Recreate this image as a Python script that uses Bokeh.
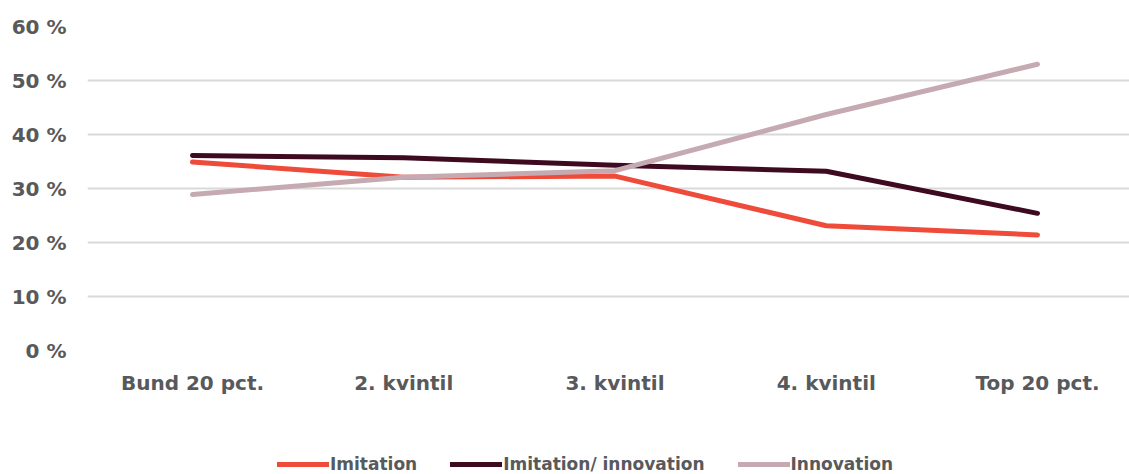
from bokeh.plotting import figure
from bokeh.layouts import column
from bokeh.models import Range1d, FixedTicker, Legend, LegendItem
from bokeh.embed import file_html
from bokeh.resources import INLINE

categories = ["Bund 20 pct.", "2. kvintil", "3. kvintil", "4. kvintil", "Top 20 pct."]
imitation = [0.349, 0.321, 0.323, 0.231, 0.214]
imitation_innovation = [0.361, 0.357, 0.343, 0.332, 0.254]
innovation = [0.289, 0.321, 0.333, 0.437, 0.530]
y_ticks = [0, 0.1, 0.2, 0.3, 0.4, 0.5, 0.6]
y_labels = ["0 %", "10 %", "20 %", "30 %", "40 %", "50 %", "60 %"]

FONT = "DejaVu Sans"
TXT = "#58595b"

x = list(range(len(categories)))

p = figure(width=1129, height=423, output_backend="svg", toolbar_location=None,
           x_range=Range1d(-0.497, 4.4355), y_range=Range1d(0, 0.6),
           min_border_left=87, min_border_right=0, min_border_top=26, min_border_bottom=73)
p.outline_line_color = None
p.background_fill_color = "white"
p.border_fill_color = "white"

p.xgrid.grid_line_color = None
p.ygrid.grid_line_color = "#d9d9d9"
p.ygrid.grid_line_width = 2

p.yaxis.ticker = FixedTicker(ticks=y_ticks)
p.yaxis.major_label_overrides = {t: l for t, l in zip(y_ticks, y_labels)}
p.yaxis.axis_line_color = None
p.yaxis.major_tick_line_color = None
p.yaxis.minor_tick_line_color = None
p.yaxis.major_label_text_font = FONT
p.yaxis.major_label_text_font_style = "bold"
p.yaxis.major_label_text_font_size = "20px"
p.yaxis.major_label_text_color = TXT
p.yaxis.major_label_standoff = 15

p.xaxis.ticker = FixedTicker(ticks=x)
p.xaxis.major_label_overrides = {i: c for i, c in zip(x, categories)}
p.xaxis.axis_line_color = None
p.xaxis.major_tick_line_color = None
p.xaxis.minor_tick_line_color = None
p.xaxis.major_label_text_font = FONT
p.xaxis.major_label_text_font_style = "bold"
p.xaxis.major_label_text_font_size = "20px"
p.xaxis.major_label_text_color = TXT
p.xaxis.major_label_standoff = 14

series = [("Imitation", imitation, "#ef4b3a"),
          ("Imitation/ innovation", imitation_innovation, "#3d0a20"),
          ("Innovation", innovation, "#c5abb1")]

# legend strip below the chart (its ranges keep the copies of the lines out of view)
q = figure(width=1129, height=51, output_backend="svg", toolbar_location=None,
           x_range=Range1d(10, 11), y_range=Range1d(10, 11),
           x_axis_location=None, y_axis_location=None,
           min_border=0, min_border_left=87, min_border_right=0,
           min_border_top=0, min_border_bottom=0)
q.outline_line_color = None
q.xgrid.grid_line_color = None
q.ygrid.grid_line_color = None
q.border_fill_color = "white"
q.background_fill_color = "white"

items = []
for name, vals, col in series:
    p.line(x, vals, line_color=col, line_width=5, line_cap="round", line_join="round")
    r = q.line(x, vals, line_color=col, line_width=5, line_cap="round")
    items.append(LegendItem(label=name, renderers=[r]))

legend = Legend(items=items, orientation="horizontal", location=(190, 0),
                glyph_width=52, glyph_height=16, label_height=16, label_standoff=1,
                spacing=33, padding=0, margin=0, border_line_color=None,
                background_fill_alpha=0,
                label_text_font=FONT, label_text_font_style="bold",
                label_text_font_size="17px", label_text_color=TXT)
q.add_layout(legend, "center")

layout = column(p, q, spacing=0)
open("out.html", "w").write(file_html(layout, INLINE))
